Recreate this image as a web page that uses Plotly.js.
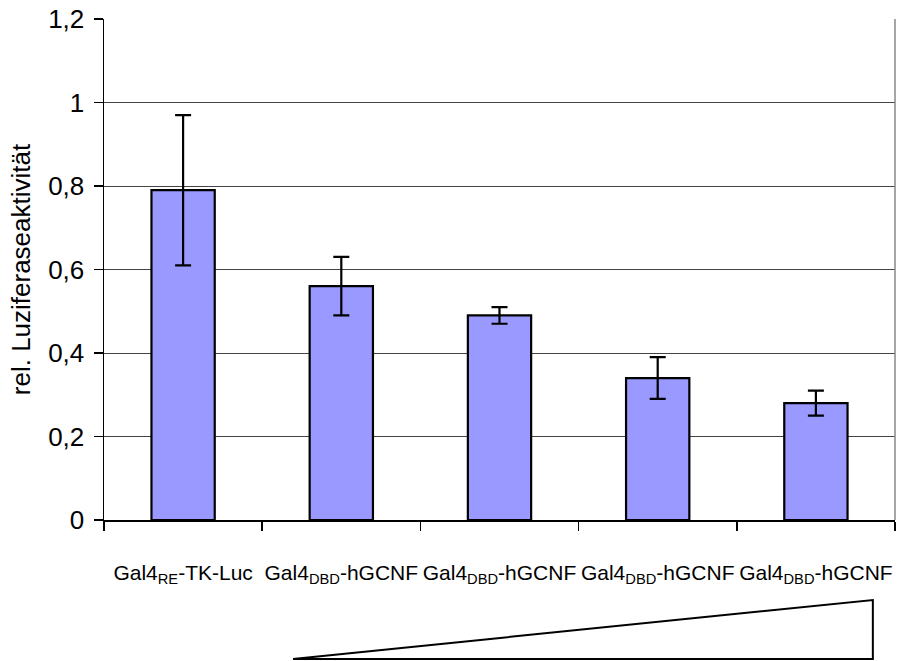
<!DOCTYPE html>
<html>
<head>
<meta charset="utf-8">
<script src="https://cdn.plot.ly/plotly-3.0.1.min.js"></script>
<style>html,body{margin:0;padding:0;background:#fff}#chart{width:910px;height:661px}</style>
</head>
<body>
<div id="chart"></div>
<script>
const labels = [
  "Gal4<sub>RE</sub>-TK-Luc",
  "Gal4<sub>DBD</sub>-hGCNF",
  "Gal4<sub>DBD</sub>-hGCNF",
  "Gal4<sub>DBD</sub>-hGCNF",
  "Gal4<sub>DBD</sub>-hGCNF"
];
const positions = [0, 1, 2, 3, 4];
const values = [0.79, 0.56, 0.49, 0.34, 0.28];
const errors = [0.18, 0.07, 0.02, 0.05, 0.03];
const yTicks = [0, 0.2, 0.4, 0.6, 0.8, 1.0, 1.2];

const font = "Arial, 'Liberation Sans', sans-serif";

const trace = {
  type: 'bar',
  x: positions,
  y: values,
  width: 0.4,
  marker: {color: '#9999FF', line: {color: '#000', width: 2.2}},
  error_y: {type: 'data', array: errors, visible: true, color: '#000', thickness: 2.2, width: 8},
  hoverinfo: 'none'
};

const layout = {
  width: 910, height: 661,
  margin: {l: 104, r: 15, t: 19, b: 141},
  paper_bgcolor: '#fff', plot_bgcolor: '#fff',
  separators: ',.',
  showlegend: false,
  font: {family: font, color: '#000', size: 21},
  bargap: 0.6,
  xaxis: {
    range: [-0.5, 4.5],
    tickmode: 'array', tickvals: positions, ticktext: labels,
    ticks: '', tickangle: 0,
    tickfont: {size: 21},
    ticklabelstandoff: 33,
    showline: true, linecolor: '#000', linewidth: 1.5,
    showgrid: false, zeroline: false,
    minor: {tick0: -0.5, dtick: 1, ticks: 'outside', ticklen: 9, tickcolor: '#000', tickwidth: 1.5, showgrid: false}
  },
  yaxis: {
    range: [0, 1.2],
    tickmode: 'array', tickvals: yTicks,
    ticks: 'outside', ticklen: 9, tickcolor: '#000', tickwidth: 1.5,
    tickfont: {size: 26},
    ticklabelstandoff: 4,
    showline: true, linecolor: '#000', linewidth: 1.5,
    showgrid: true, gridcolor: '#444', gridwidth: 1,
    zeroline: false,
    title: {text: 'rel. Luziferaseaktivität', font: {size: 26}, standoff: 10}
  },
  shapes: [
    {type: 'line', xref: 'paper', yref: 'paper', x0: 1, x1: 1, y0: 0, y1: 1,
     line: {color: '#888', width: 1.5}},
    {type: 'path', xref: 'paper', yref: 'paper',
     path: 'M 0.239 -0.2774 L 0.972 -0.2774 L 0.972 -0.1597 Z',
     fillcolor: '#fff', line: {color: '#000', width: 2}}
  ]
};

Plotly.newPlot('chart', [trace], layout, {staticPlot: true, displayModeBar: false});
</script>
</body>
</html>
